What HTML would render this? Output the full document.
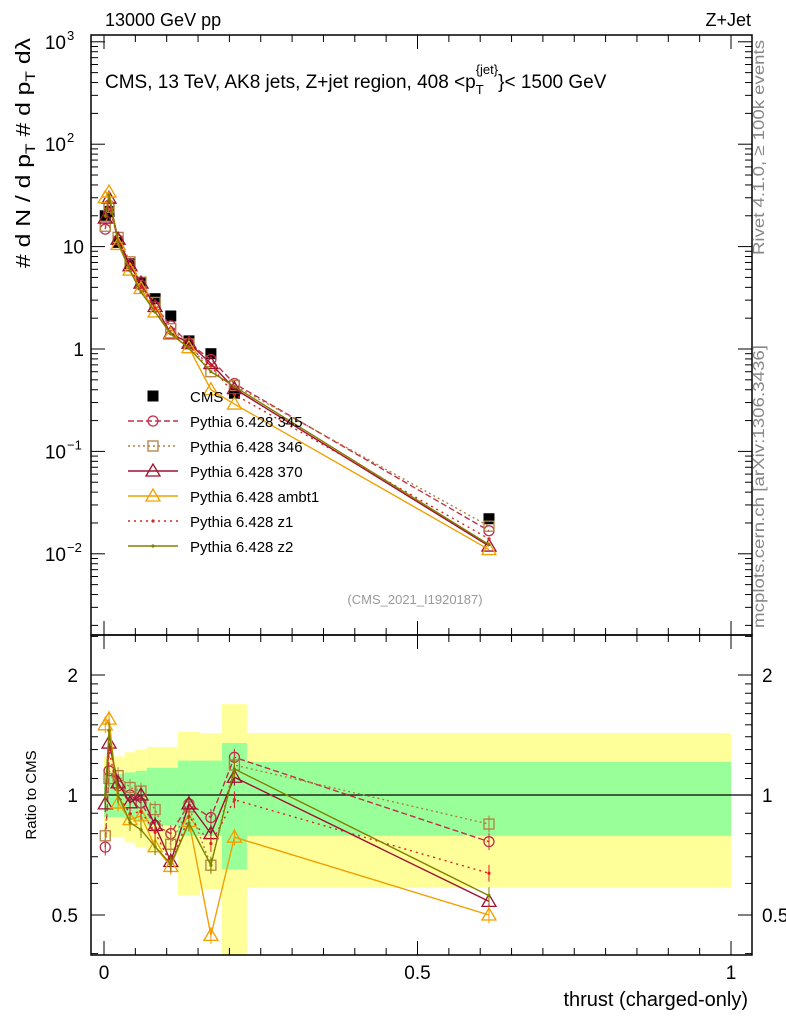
<!DOCTYPE html>
<html><head><meta charset="utf-8"><style>
html,body{margin:0;padding:0;background:#fff;}
svg{display:block;font-family:"Liberation Sans",sans-serif;}
</style></head><body>
<svg id="c" width="786" height="1024" viewBox="0 0 786 1024">
<g id="bands"></g>
<g id="axes"></g>
<g id="series"></g>
<text x="105" y="26" font-size="18">13000 GeV pp</text>
<text x="751" y="26" font-size="18" text-anchor="end">Z+Jet</text>
<text x="105" y="88" font-size="19">CMS, 13 TeV, AK8 jets, Z+jet region, 408 &lt;p<tspan font-size="13" dy="6">T</tspan><tspan font-size="13" dx="-8" dy="-20">{jet}</tspan><tspan dy="14">}&lt; 1500 GeV</tspan></text>
<text x="415" y="604" font-size="13" fill="#999" text-anchor="middle">(CMS_2021_I1920187)</text>
<text transform="translate(764,255) rotate(-90)" font-size="16" fill="#888" textLength="215" lengthAdjust="spacingAndGlyphs">Rivet 4.1.0, ≥ 100k events</text>
<text transform="translate(764,628) rotate(-90)" font-size="16" fill="#888" textLength="283" lengthAdjust="spacingAndGlyphs">mcplots.cern.ch [arXiv:1306.3436]</text>
<text transform="translate(30,268) rotate(-90)" font-size="20" textLength="230" lengthAdjust="spacingAndGlyphs">#  d N / d p<tspan font-size="14" dy="5">T</tspan><tspan dy="-5">  #  d p</tspan><tspan font-size="14" dy="5">T</tspan><tspan dy="-5"> dλ</tspan></text>
<text transform="translate(36,795) rotate(-90)" font-size="15" text-anchor="middle">Ratio to CMS</text>
<text x="748" y="1006" font-size="20" text-anchor="end">thrust (charged-only)</text>
<g id="legend"></g>
</svg>
<script>
const edges=[0,0.004,0.012,0.033,0.05,0.068,0.095,0.118,0.153,0.188,0.228,1];
const xc=[0.002,0.008,0.0225,0.0415,0.059,0.0815,0.1065,0.1355,0.1705,0.208,0.614];
const cms=[20,22,11,6.8,4.4,3.1,2.1,1.2,0.9,0.37,0.022];
const yelHi=[1.25,1.25,1.25,1.28,1.30,1.32,1.32,1.44,1.43,1.69,1.43];
const yelLo=[0.785,0.785,0.785,0.76,0.74,0.72,0.72,0.56,0.58,0.38,0.585];
const grnHi=[1.13,1.13,1.13,1.14,1.15,1.17,1.17,1.22,1.22,1.35,1.21];
const grnLo=[0.88,0.88,0.88,0.87,0.86,0.84,0.84,0.79,0.79,0.65,0.79];
const p345=[14.8,25.3,11.6,6.8,4.2,2.6,1.68,1.14,0.79,0.46,0.0168];
const p346=[15.8,24.2,12.3,7.1,4.5,2.85,1.58,1.12,0.60,0.44,0.0186];
const p370=[19,29.7,11.8,6.5,4.4,2.6,1.43,1.14,0.72,0.41,0.0119];
const pambt1=[30,34.1,10.5,5.9,3.9,2.3,1.39,1.03,0.40,0.29,0.0110];
const pz1=[20,28.6,11,6.1,4.0,2.5,1.41,1.06,0.68,0.36,0.0140];
const pz2=[20,31.9,11,5.8,3.6,2.3,1.41,1.02,0.60,0.43,0.0123];
const names=["Pythia 6.428 345","Pythia 6.428 346","Pythia 6.428 370","Pythia 6.428 ambt1","Pythia 6.428 z1","Pythia 6.428 z2"];

const NS="http://www.w3.org/2000/svg";
const L=91,R=752,T=35,MB=635,RB=955;
const X=v=>104+627*v;
const Y=v=>349-102.4*Math.log10(v);
const YR=r=>795-398.6*Math.log10(r);
function mk(tag,at,par){const e=document.createElementNS(NS,tag);for(const k in at)e.setAttribute(k,at[k]);par.appendChild(e);return e;}
const bands=document.getElementById('bands'),axes=document.getElementById('axes'),ser=document.getElementById('series'),leg=document.getElementById('legend');
const clipR=v=>Math.min(RB,Math.max(MB,v));
for(let i=0;i<xc.length;i++){
 const x0=X(edges[i]),x1=X(edges[i+1]);
 let r=mk('rect',{x:x0,y:clipR(YR(yelHi[i])),width:x1-x0,height:clipR(YR(yelLo[i]))-clipR(YR(yelHi[i])),fill:'#ffff99'},bands);
 
 r=mk('rect',{x:x0,y:YR(grnHi[i]),width:x1-x0,height:YR(grnLo[i])-YR(grnHi[i]),fill:'#99ff99'},bands);
 
}
mk('rect',{x:L,y:T,width:R-L,height:MB-T,fill:'none',stroke:'#000','stroke-width':1.5},axes);
mk('rect',{x:L,y:MB,width:R-L,height:RB-MB,fill:'none',stroke:'#000','stroke-width':1.5},axes);
mk('line',{x1:L,x2:R,y1:YR(1),y2:YR(1),stroke:'#000','stroke-width':1.2},axes);
for(let d=-3;d<=3;d++){for(let m=1;m<10;m++){const v=m*Math.pow(10,d);const y=Y(v);if(y<T||y>MB)continue;const len=m==1?14:7;
 mk('line',{x1:L,x2:L+len,y1:y,y2:y,stroke:'#000'},axes);mk('line',{x1:R,x2:R-len,y1:y,y2:y,stroke:'#000'},axes);}}
const ylab=[[1000,'10','3'],[100,'10','2'],[10,'10',''],[1,'1',''],[0.1,'10','−1'],[0.01,'10','−2']];
ylab.forEach(a=>{const t=mk('text',{x:a[2]?70:84,y:Y(a[0])+7,'font-size':19,'text-anchor':'end'},axes);t.textContent=a[1];
 
 if(a[2]){const s=mk('tspan',{'font-size':13,dy:-9},t);t.setAttribute('x',66);s.setAttribute('x',67);s.setAttribute('text-anchor','start');s.textContent=a[2];}});
[0.4,0.5,0.6,0.7,0.8,0.9,1,1.1,1.2,1.3,1.4,1.5,1.6,1.7,1.8,1.9,2,2.5].forEach(r=>{const y=YR(r);if(y<MB||y>RB)return;const len=(r==0.5||r==1||r==2)?14:7;
 mk('line',{x1:L,x2:L+len,y1:y,y2:y,stroke:'#000'},axes);mk('line',{x1:R,x2:R-len,y1:y,y2:y,stroke:'#000'},axes);});
[[2,'2'],[1,'1'],[0.5,'0.5']].forEach(a=>{let t=mk('text',{x:78,y:YR(a[0])+7,'font-size':19,'text-anchor':'end'},axes);t.textContent=a[1];
 
 t=mk('text',{x:762,y:YR(a[0])+7,'font-size':19},axes);t.textContent=a[1];
 });
for(let i=0;i<=20;i++){const v=i*0.05;const x=X(v);const len=i%10==0?14:7;
 [[T,1],[MB,-1],[MB,1],[RB,-1]].forEach(p=>mk('line',{x1:x,x2:x,y1:p[0],y2:p[0]+p[1]*len,stroke:'#000'},axes));}
[[0,'0'],[0.5,'0.5'],[1,'1']].forEach(a=>{const t=mk('text',{x:X(a[0]),y:979,'font-size':19,'text-anchor':'middle'},axes);t.textContent=a[1];
 });
cms.forEach((v,i)=>{const r=mk('rect',{x:X(xc[i])-5.5,y:Y(v)-5.5,width:11,height:11,fill:'#000'},ser);
 });
const sers=[[p345,'#c0304a','6,3','circle'],[p346,'#b08040','2,3','square'],[p370,'#a01030','','tri'],[pambt1,'#f0a000','','tri'],[pz1,'#e02020','2,4','dot'],[pz2,'#808000','','dot']];
function marker(type,x,y,c,g){
 if(type=='circle')mk('circle',{cx:x,cy:y,r:5,fill:'none',stroke:c,'stroke-width':1.3},g);
 else if(type=='square')mk('rect',{x:x-5,y:y-5,width:10,height:10,fill:'none',stroke:c,'stroke-width':1.3},g);
 else if(type=='tri')mk('polygon',{points:`${x},${y-7} ${x-7},${y+5} ${x+7},${y+5}`,fill:'none',stroke:c,'stroke-width':1.3},g);
 else mk('circle',{cx:x,cy:y,r:1.6,fill:c},g);
}
sers.forEach((s,k)=>{const [d,c,da,mt]=s;
 const g=mk('g',{},ser);
 mk('polyline',{points:d.map((v,i)=>X(xc[i])+','+Y(v)).join(' '),fill:'none',stroke:c,'stroke-width':1.4,'stroke-dasharray':da},g);
 mk('polyline',{points:d.map((v,i)=>X(xc[i])+','+YR(v/cms[i])).join(' '),fill:'none',stroke:c,'stroke-width':1.4,'stroke-dasharray':da},g);
 d.forEach((v,i)=>{const x=X(xc[i]);marker(mt,x,Y(v),c,g);const r=v/cms[i];
  mk('line',{x1:x,x2:x,y1:YR(r*1.05),y2:YR(r/1.05),stroke:c},g);marker(mt,x,YR(r),c,g);});
 const ly=421+k*25;
 const lg=mk('g',{},leg);
 mk('line',{x1:128,x2:178,y1:ly,y2:ly,stroke:c,'stroke-width':1.4,'stroke-dasharray':da},lg);marker(mt,153,ly,c,lg);
 const t=mk('text',{x:190,y:ly+6,'font-size':15},lg);t.textContent=names[k];
});
const lg0=mk('g',{},leg);
mk('rect',{x:147.5,y:390.5,width:11,height:11,fill:'#000'},lg0);
const t0=mk('text',{x:190,y:402,'font-size':15},lg0);t0.textContent='CMS';
</script>
</body></html>
